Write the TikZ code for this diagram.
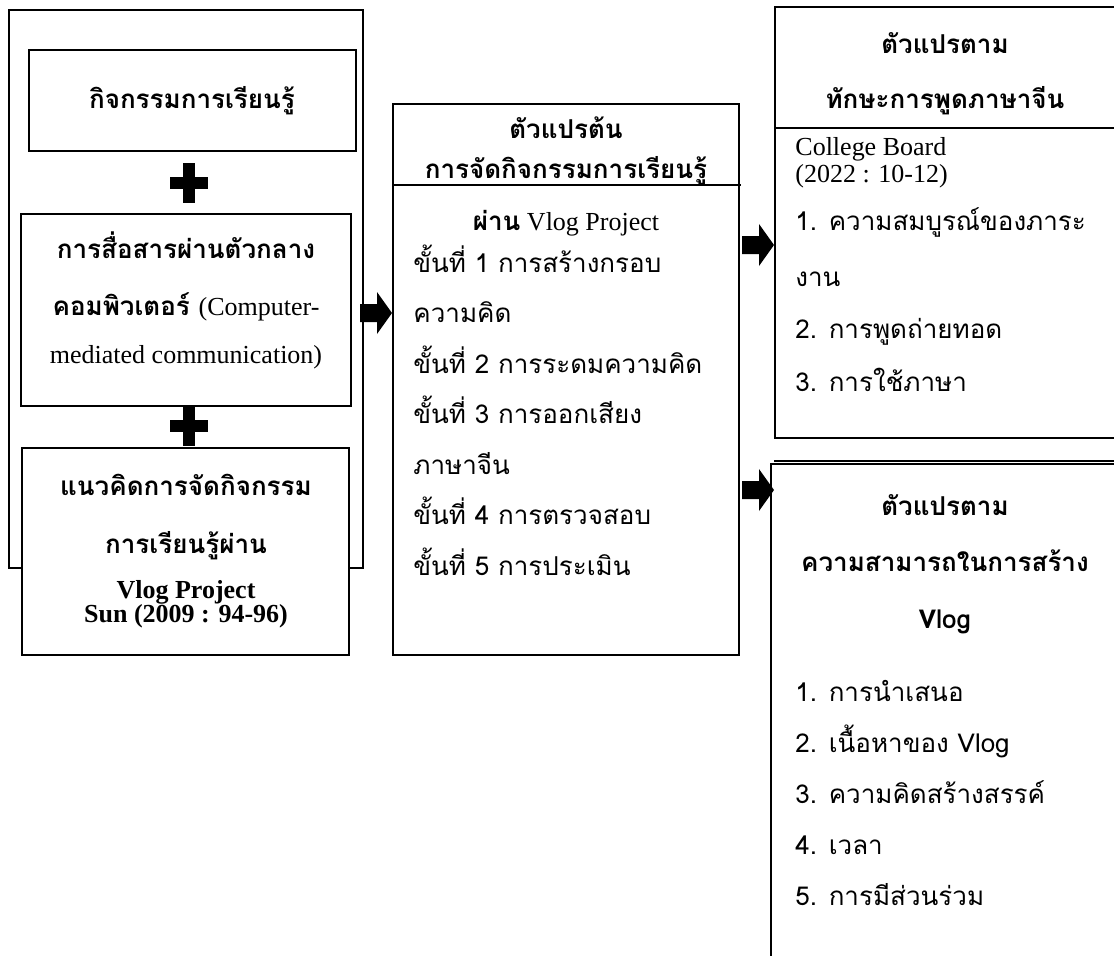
\documentclass[tikz,border=0pt]{standalone}
\usepackage{fontspec}
\setmainfont{Liberation Serif}
\newfontfamily\thai[Script=Thai]{Loma}

\begin{document}
\begin{tikzpicture}[x=0.5pt,y=-0.5pt,
  box/.style={draw,fill=white,line width=0.9pt},
  tb/.style={font=\fontsize{13}{15}\selectfont\thai\bfseries, anchor=base, inner sep=0pt},
  tl/.style={font=\fontsize{13}{15}\selectfont\thai, anchor=base west, inner sep=0pt},
  en/.style={font=\fontsize{13}{15}\selectfont, anchor=base west, inner sep=0pt},
  blockarr/.pic={\fill (-16,-9) -- (1,-9) -- (1,-21) -- (16,0) -- (1,21) -- (1,9) -- (-16,9) -- cycle;}]
\useasboundingbox (0,0) rectangle (1114,955);
\clip (0,0) rectangle (1114,955);

% left column
\draw[box] (9,10) rectangle (363,568);
\draw[box] (29,50) rectangle (356,151);
\draw[box] (21,214) rectangle (351,406);
\draw[box] (22,448) rectangle (349,655);
\foreach \y in {183,426} {
  \fill (183,\y-20) rectangle (195,\y+20);
  \fill (170,\y-6) rectangle (208,\y+6);
}
\node[tb] (act) at (192,108) {กิจกรรมการเรียนรู้};
\node[tb] (cmc1) at (186,258) {การสื่อสารผ่านตัวกลาง};
\node[tb] (cmc2) at (186,315) {คอมพิวเตอร์ \normalfont(Computer-};
\node[en,anchor=base] (cmc3) at (186,363) {mediated communication)};
\node[tb] (idea1) at (186,495) {แนวคิดการจัดกิจกรรม};
\node[tb] (idea2) at (186,553) {การเรียนรู้ผ่าน};
\node[en,anchor=base,font=\fontsize{13}{15}\selectfont\bfseries] (idea3) at (186,598) {Vlog Project};
\node[en,anchor=base,font=\fontsize{13}{15}\selectfont\bfseries] (idea4) at (186,622) {Sun (2009 : 94-96)};

% middle: independent variable
\draw[box] (393,104) rectangle (739,655);
\draw[line width=0.9pt] (393,185) -- (741,185);
\node[tb] (iv1) at (566,138) {ตัวแปรต้น};
\node[tb] (iv2) at (566,178) {การจัดกิจกรรมการเรียนรู้};
\node[en,anchor=base] (iv3) at (566,230) {{\thai\bfseries ผ่าน} Vlog Project};
\foreach \t [count=\i] in {ขั้นที่ 1 การสร้างกรอบ, ความคิด, ขั้นที่ 2 การระดมความคิด,
    ขั้นที่ 3 การออกเสียง, ภาษาจีน, ขั้นที่ 4 การตรวจสอบ, ขั้นที่ 5 การประเมิน}
  \node[tl] (step\i) at (413,{272+50.5*(\i-1)}) {\t};

% right top: speaking skill
\draw[box] (775,7) rectangle (1125,438);
\draw[line width=0.9pt] (775,128) -- (1125,128);
\node[tb] (dv1) at (945,53) {ตัวแปรตาม};
\node[tb] (dv2) at (945,108) {ทักษะการพูดภาษาจีน};
\node[en] (cb1) at (795,155) {College Board};
\node[en] (cb2) at (795,182) {(2022 : 10-12)};
\node[tl] (sk1) at (795,230) {1. ความสมบูรณ์ของภาระ};
\node[tl] (sk2) at (795,286) {งาน};
\node[tl] (sk3) at (795,338) {2. การพูดถ่ายทอด};
\node[tl] (sk4) at (795,391) {3. การใช้ภาษา};

% right bottom: vlog ability
\draw[line width=0.9pt] (774,461) -- (1125,461);
\draw[box] (771,464) rectangle (1125,980);
\node[tb] (va1) at (945,515) {ตัวแปรตาม};
\node[tb] (va2) at (945,571) {ความสามารถในการสร้าง};
\node[tb] (va3) at (945,628) {Vlog};
\foreach \t [count=\i] in {1. การนำเสนอ, 2. เนื้อหาของ Vlog, 3. ความคิดสร้างสรรค์,
    4. เวลา, 5. การมีส่วนร่วม}
  \node[tl] (vl\i) at (795,{701+51*(\i-1)}) {\t};

% block arrows
\pic (ar1) at (376,313) {blockarr};
\pic (ar2) at (758,245) {blockarr};
\pic (ar3) at (758,490) {blockarr};
\end{tikzpicture}
\end{document}
